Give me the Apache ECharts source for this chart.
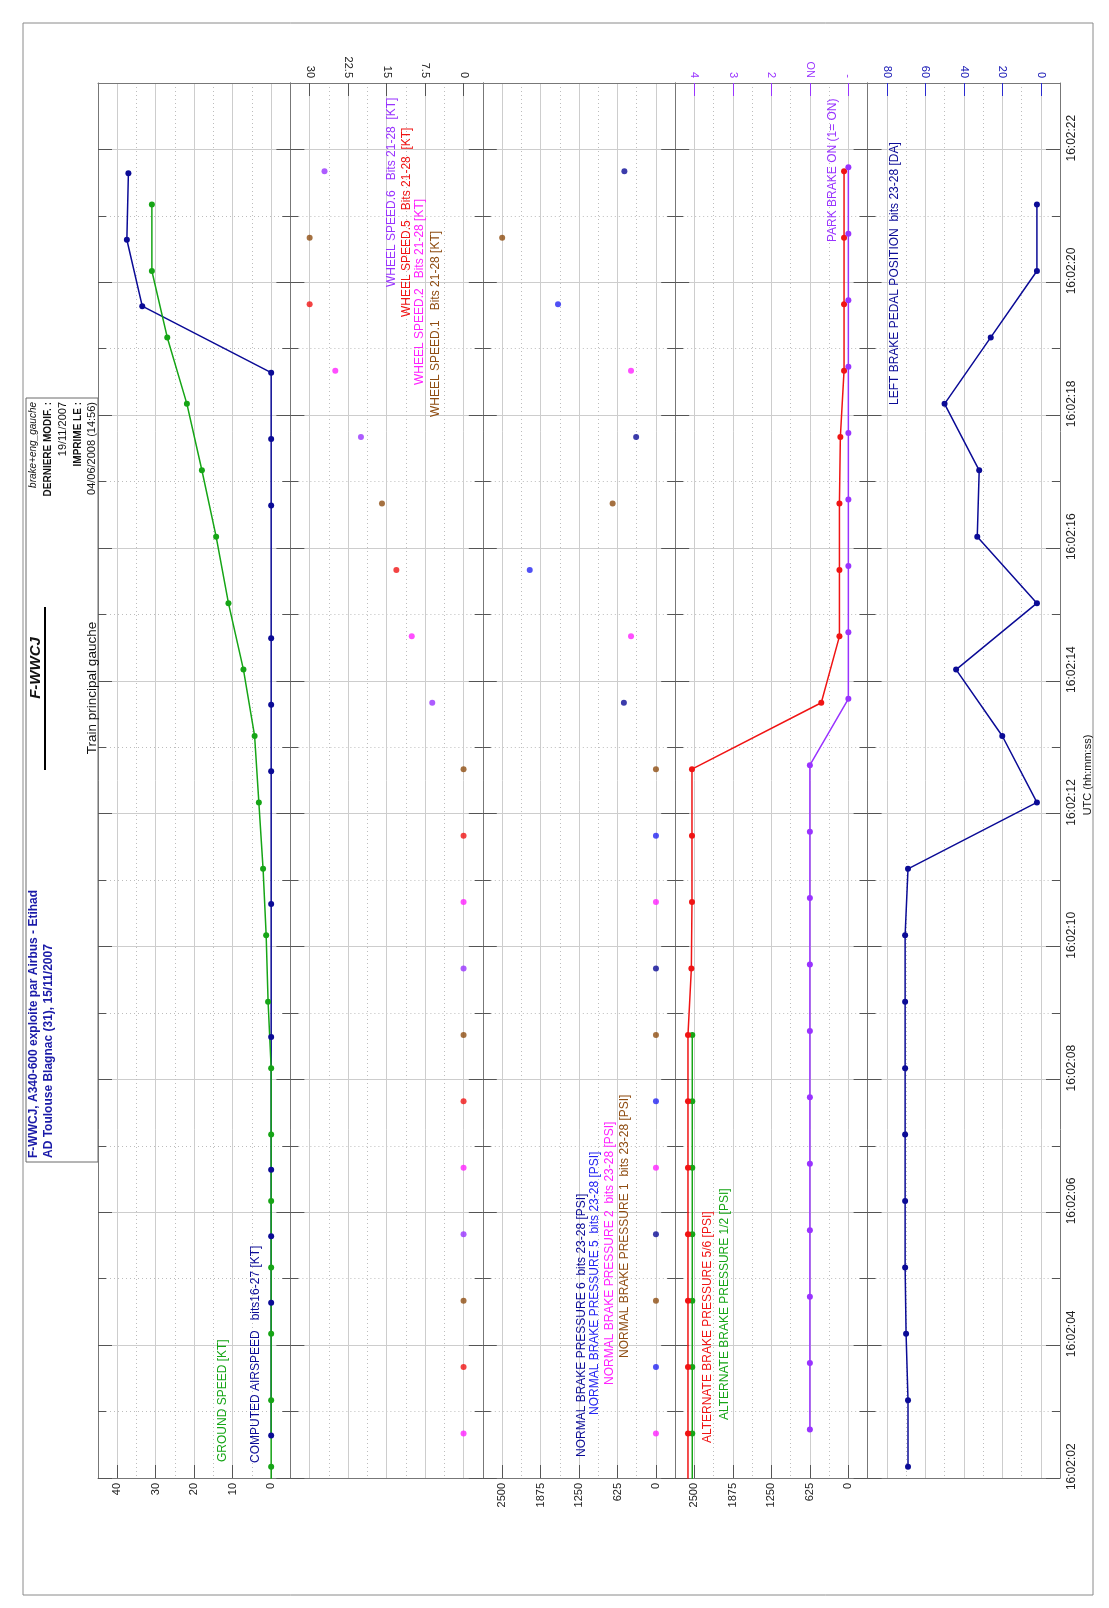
<!DOCTYPE html>
<html>
<head>
<meta charset="utf-8">
<script src="https://cdn.jsdelivr.net/npm/echarts@6.0.0/dist/echarts.min.js"></script>
<style>
html,body{margin:0;padding:0;background:#ffffff;}
#chart{width:1109px;height:1608px;}
</style>
</head>
<body>
<div id="chart"></div>
<script>
// ================= DATA (times = seconds after 16:02:00) =================
const timeLabelSecs = [2,4,6,8,10,12,14,16,18,20,22];
const timeLabels = ['16:02:02','16:02:04','16:02:06','16:02:08','16:02:10','16:02:12','16:02:14','16:02:16','16:02:18','16:02:20','16:02:22'];

const speedTicks = [0,10,20,30,40];
const wheelTicks = [0,7.5,15,22.5,30];
const pressTicks = [0,625,1250,1875,2500];
const parkTicks = [0,1,2,3,4];
const parkTickLabels = ['-','ON','2','3','4'];
const pedalTicks = [0,20,40,60,80];

// Ground speed [KT]
const gsTime = [1,2,3,4,5,6,7,8,9,10,11,12,13,14,15,16,17,18,19,20,21];
const gsVal  = [0,0,0,0,0,0,0,0,0.8,1.3,2.1,3.2,4.3,7.2,11.1,14.3,18.0,21.9,27.0,31.0,31.0];
// Computed airspeed [KT]
const casTime = [2.47,4.47,5.47,6.47,8.47,10.47,12.47,13.47,14.47,16.47,17.47,18.47,19.47,20.47,21.47];
const casVal  = [0,0,0,0,0,0,0,0,0,0,0,0,33.5,37.5,37.1];

// Wheel speeds [KT]
const ws6Time = [5.5,9.5,13.5,17.5,21.5];   const ws6Val = [0,0,6.1,20.0,27.1];
const ws5Time = [3.5,7.5,11.5,15.5,19.5];   const ws5Val = [0,0,0,13.1,30.0];
const ws2Time = [2.5,6.5,10.5,14.5,18.5];   const ws2Val = [0,0,0,10.1,25.0];
const ws1Time = [4.5,8.5,12.5,16.5,20.5];   const ws1Val = [0,0,0,15.9,30.0];

// Normal brake pressures [PSI]
const nbp6Time = [5.5,9.5,13.5,17.5,21.5];  const nbp6Val = [0,0,521,322,513];
const nbp5Time = [3.5,7.5,11.5,15.5,19.5];  const nbp5Val = [0,0,0,2050,1591];
const nbp2Time = [2.5,6.5,10.5,14.5,18.5];  const nbp2Val = [0,0,0,405,405];
const nbp1Time = [4.5,8.5,12.5,16.5,20.5];  const nbp1Val = [0,0,0,704,2498];

// Alternate brake pressures [PSI]
const alt56Time = [1.5,2.5,3.5,4.5,5.5,6.5,7.5,8.5,9.5,10.5,11.5,12.5,13.5,14.5,15.5,16.5,17.5,18.5,19.5,20.5,21.5];
const alt56Val  = [2605,2605,2605,2605,2605,2605,2605,2605,2550,2540,2540,2540,440,145,145,145,130,70,70,70,70];
const alt12Time = [1.5,2.5,3.5,4.5,5.5,6.5,7.5,8.5];
const alt12Val  = [2535,2535,2535,2535,2535,2535,2535,2535];

// Park brake (1 = ON)
const parkTime = [2.56,3.56,4.56,5.56,6.56,7.56,8.56,9.56,10.56,11.56,12.56,13.56,14.56,15.56,16.56,17.56,18.56,19.56,20.56,21.56];
const parkVal  = [1,1,1,1,1,1,1,1,1,1,1,0,0,0,0,0,0,0,0,0];

// Left brake pedal position [DA]
const pedalTime = [2,3,4,5,6,7,8,9,10,11,12,13,14,15,16,17,18,19,20,21];
const pedalVal  = [69,69,70,70.5,70.5,70.5,70.5,70.5,70.5,69,2,20,44,2,33,32,50,26,2,2];

// ================= STYLE / LAYOUT =================
const FONT = '"Liberation Sans", Arial, sans-serif';
const NAVY='#0b0b96', GREEN='#16a516', VIOLET='#9933ff', RED='#f01414', MAGENTA='#ff22ff', BROWN='#8f4d12', BLUE='#2424f2';
const GRIDC='#cdcdcd', DOTC='#bdbdbd', BORDER='#777777', TICKC='#555555';
const PANEL_L = 98, PANEL_W = 192.4, TOP = 83, PH = 1395;
const T0 = 1.83, TSPAN = 21;                 // bottom edge at 16:02:01.83, 21 s tall
const u = t => Math.round((t - T0) * 1000) / 1000;
const pts = (ts, vs) => ts.map((t, i) => [vs[i], u(t)]);
const MAJ_T = [0,2,4,6,8,10,12,14,16,18,20];
const MIN_T = [1,3,5,7,9,11,13,15,17,19];
const halfway = a => a.slice(0, -1).map((v, i) => (v + a[i + 1]) / 2);

const grids = [0,1,2,3,4].map(i => ({left: PANEL_L + i * PANEL_W, top: TOP, width: PANEL_W, height: PH}));

function xMain(g, min, max, ticks, pos, o) {
  o = o || {};
  return {type:'value', gridIndex:g, min, max, inverse:true, position:pos,
    axisLine:{show:true, onZero:false, lineStyle:{color:BORDER, width:1}},
    axisTick:{show:true, inside:true, length:13, customValues:ticks, lineStyle:{color:o.tickColor || TICKC, width:1}},
    axisLabel:{show:true, rotate:90, margin:5, customValues:ticks, color:o.labelColor || '#222', fontSize:11, fontFamily:FONT,
      formatter: o.formatter || (v => String(v))},
    splitLine:{show:o.split !== false, lineStyle:{color:GRIDC, width:1}}};
}
function xMinor(g, min, max, ticks, pos, showLine) {
  return {type:'value', gridIndex:g, min, max, inverse:true, position:pos,
    axisLine:{show:showLine, onZero:false, lineStyle:{color:BORDER, width:1}},
    axisTick:{show:false, customValues:ticks}, axisLabel:{show:false},
    splitLine:{show:true, lineStyle:{color:DOTC, width:1, type:[1,3]}}};
}
const parkFmt = v => parkTickLabels[parkTicks.indexOf(Math.round(v))];

const xAxes = [
  xMain(0, -5, 45, speedTicks, 'bottom'),                       // 0
  xMinor(0, -5, 45, halfway(speedTicks), 'top', true),          // 1
  xMain(1, -3.75, 33.75, wheelTicks, 'top'),                    // 2
  xMinor(1, -3.75, 33.75, halfway(wheelTicks), 'bottom', true), // 3
  xMain(2, -312.5, 2812.5, pressTicks, 'bottom'),               // 4
  xMinor(2, -312.5, 2812.5, halfway(pressTicks), 'top', true),  // 5
  xMain(3, -312.5, 2812.5, pressTicks, 'bottom'),               // 6
  xMinor(3, -312.5, 2812.5, halfway(pressTicks), 'top', false), // 7
  xMain(3, -0.5, 4.5, parkTicks, 'top', {split:false, tickColor:VIOLET, labelColor:VIOLET, formatter:parkFmt}), // 8
  xMain(4, -10, 90, pedalTicks, 'top', {tickColor:'#2a2ad0', labelColor:'#1414b4'}), // 9
  xMinor(4, -10, 90, halfway(pedalTicks), 'bottom', true)       // 10
];
const MAINX = [0, 2, 4, 6, 9];

const timeLabelU = timeLabelSecs.map(u);
function timeFmt(v) {
  let best = 0;
  timeLabelU.forEach((x, i) => { if (Math.abs(x - v) < Math.abs(timeLabelU[best] - v)) best = i; });
  return timeLabels[best];
}
const yAxes = [];
[0,1,2,3,4].forEach(g => {
  yAxes.push({type:'value', gridIndex:g, min:0, max:TSPAN, position:'left',
    axisLine:{show:true, onZero:false, lineStyle:{color:BORDER, width:1}},
    axisTick:{show:true, inside:true, length:14, customValues:MAJ_T, lineStyle:{color:TICKC}},
    axisLabel:{show:false}, splitLine:{show:true, lineStyle:{color:GRIDC, width:1}}});
  yAxes.push({type:'value', gridIndex:g, min:0, max:TSPAN, position:'left',
    axisLine:{show:false, onZero:false},
    axisTick:{show:true, inside:true, length:8, customValues:MIN_T, lineStyle:{color:TICKC}},
    axisLabel:{show:false}, splitLine:{show:true, lineStyle:{color:DOTC, width:1, type:[1,3]}}});
  yAxes.push({type:'value', gridIndex:g, min:0, max:TSPAN, position:'right',
    axisLine:{show:true, onZero:false, lineStyle:{color:BORDER, width:1}},
    axisTick:{show:true, inside:true, length:14, customValues:MAJ_T, lineStyle:{color:TICKC}},
    axisLabel: g === 4 ? {show:true, rotate:90, margin:6, customValues:timeLabelU, formatter:timeFmt, color:'#222', fontSize:12, fontFamily:FONT} : {show:false},
    splitLine:{show:false}});
  yAxes.push({type:'value', gridIndex:g, min:0, max:TSPAN, position:'right',
    axisLine:{show:false, onZero:false},
    axisTick:{show:true, inside:true, length:8, customValues:MIN_T, lineStyle:{color:TICKC}},
    axisLabel:{show:false}, splitLine:{show:false}});
});

function lineS(name, g, xi, ts, vs, color) {
  return {name, type:'line', xAxisIndex:xi, yAxisIndex:4 * g, data:pts(ts, vs), symbol:'circle', symbolSize:6,
    lineStyle:{color, width:1.5}, itemStyle:{color}, clip:true, animation:false, z:3};
}
function dotS(name, g, ts, vs, color) {
  return {name, type:'scatter', xAxisIndex:MAINX[g], yAxisIndex:4 * g, data:pts(ts, vs), symbol:'circle', symbolSize:6,
    itemStyle:{color}, clip:true, animation:false, z:3};
}
const series = [
  lineS('CAS', 0, 0, casTime, casVal, NAVY),
  lineS('GS', 0, 0, gsTime, gsVal, GREEN),
  dotS('WS6', 1, ws6Time, ws6Val, VIOLET),
  dotS('WS5', 1, ws5Time, ws5Val, RED),
  dotS('WS2', 1, ws2Time, ws2Val, MAGENTA),
  dotS('WS1', 1, ws1Time, ws1Val, BROWN),
  dotS('NBP6', 2, nbp6Time, nbp6Val, NAVY),
  dotS('NBP5', 2, nbp5Time, nbp5Val, BLUE),
  dotS('NBP2', 2, nbp2Time, nbp2Val, MAGENTA),
  dotS('NBP1', 2, nbp1Time, nbp1Val, BROWN),
  lineS('ALT12', 3, 6, alt12Time, alt12Val, GREEN),
  lineS('ALT56', 3, 6, alt56Time, alt56Val, RED),
  lineS('PARK', 3, 8, parkTime, parkVal, VIOLET),
  lineS('PEDAL', 4, 9, pedalTime, pedalVal, NAVY)
];

function vtext(text, x, y, color, size, align, weight, style) {
  return {type:'text', x, y, rotation:Math.PI / 2, silent:true, z:100,
    style:{text, fill:color, font:(style || 'normal') + ' ' + (weight || 'normal') + ' ' + size + 'px ' + FONT,
      align:align, verticalAlign:'middle'}};
}
const TB = '#1a1aa8';
const graphics = [
  {type:'rect', shape:{x:23, y:23, width:1070, height:1572}, style:{fill:'none', stroke:'#8a8a8a', lineWidth:1}, silent:true},
  {type:'rect', shape:{x:26, y:398, width:72, height:764}, style:{fill:'none', stroke:'#6a6a6a', lineWidth:1}, silent:true},
  {type:'line', shape:{x1:45, y1:607, x2:45, y2:770}, style:{stroke:'#000', lineWidth:2}, silent:true},
  vtext('brake+eng_gauche', 33, 402, '#111', 10, 'right', 'normal', 'italic'),
  vtext('DERNIERE MODIF. :', 48, 402, '#111', 10, 'right', 'bold'),
  vtext('19/11/2007', 63, 402, '#111', 11, 'right'),
  vtext('IMPRIME LE :', 78, 402, '#111', 10, 'right', 'bold'),
  vtext('04/06/2008 (14:56)', 92, 402, '#111', 11, 'right'),
  vtext('F-WWCJ', 36, 668, '#111', 15, 'center', 'bold', 'italic'),
  vtext('Train principal gauche', 92, 688, '#111', 13.5, 'center'),
  vtext('F-WWCJ, A340-600 exploite par Airbus - Etihad', 34, 1158, TB, 12, 'left', 'bold'),
  vtext('AD Toulouse Blagnac (31), 15/11/2007', 49, 1158, TB, 12, 'left', 'bold'),
  vtext('GROUND SPEED [KT]', 223, 1462, GREEN, 12, 'left'),
  vtext('COMPUTED AIRSPEED   bits16-27 [KT]', 256, 1463, NAVY, 12, 'left'),
  vtext('WHEEL SPEED.6   Bits 21-28  [KT]', 392, 287, VIOLET, 12, 'left'),
  vtext('WHEEL SPEED.5   Bits 21-28  [KT]', 407, 317, RED, 12, 'left'),
  vtext('WHEEL SPEED.2   Bits 21-28 [KT]', 420, 385, MAGENTA, 12, 'left'),
  vtext('WHEEL SPEED.1   Bits 21-28 [KT]', 436, 417, BROWN, 12, 'left'),
  vtext('NORMAL BRAKE PRESSURE 6  bits 23-28 [PSI]', 582, 1457, NAVY, 12, 'left'),
  vtext('NORMAL BRAKE PRESSURE 5  bits 23-28 [PSI]', 595, 1415, BLUE, 12, 'left'),
  vtext('NORMAL BRAKE PRESSURE 2  bits 23-28 [PSI]', 610, 1385, MAGENTA, 12, 'left'),
  vtext('NORMAL BRAKE PRESSURE 1  bits 23-28 [PSI]', 625, 1358, BROWN, 12, 'left'),
  vtext('ALTERNATE BRAKE PRESSURE 5/6 [PSI]', 708, 1443, RED, 12, 'left'),
  vtext('ALTERNATE BRAKE PRESSURE 1/2 [PSI]', 725, 1420, GREEN, 12, 'left'),
  vtext('PARK BRAKE ON (1= ON)', 833, 242, VIOLET, 12, 'left'),
  vtext('LEFT BRAKE PEDAL POSITION  bits 23-28 [DA]', 895, 405, NAVY, 12, 'left'),
  vtext('UTC (hh:mm:ss)', 1088, 775, '#111', 11, 'center')
];

const chart = echarts.init(document.getElementById('chart'), null, {renderer:'canvas'});
chart.setOption({
  animation:false,
  backgroundColor:'#ffffff',
  textStyle:{fontFamily:FONT},
  grid:grids,
  xAxis:xAxes,
  yAxis:yAxes,
  series:series,
  graphic:{elements:graphics}
});
</script>
</body>
</html>
